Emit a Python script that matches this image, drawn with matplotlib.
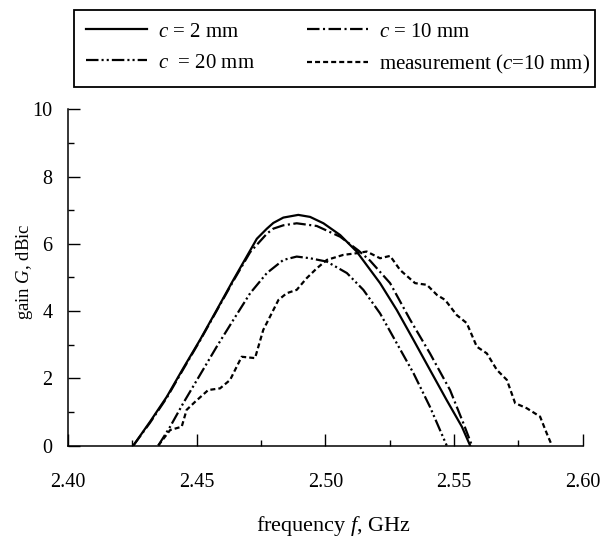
import numpy as np
import matplotlib
matplotlib.use('Agg')
import matplotlib.pyplot as plt
from matplotlib.patches import Rectangle
from matplotlib.ticker import MultipleLocator, FormatStrFormatter

plt.rcParams['font.family'] = ['Liberation Serif', 'DejaVu Serif']
plt.rcParams['mathtext.fontset'] = 'custom'
plt.rcParams['mathtext.rm'] = 'Liberation Serif'
plt.rcParams['mathtext.it'] = 'Liberation Serif:italic'
plt.rcParams['lines.scale_dashes'] = False

# c = 2 mm (simulated)
f_c2 = [2.4254, 2.4319, 2.4384, 2.4448, 2.4513, 2.4578, 2.4643, 2.4708, 2.4734,
        2.4773, 2.4798, 2.4837, 2.4895, 2.4941, 2.4993, 2.5058, 2.5122, 2.5213,
        2.5278, 2.5343, 2.5407, 2.5472, 2.5531, 2.5563]
g_c2 = [0.0, 0.71, 1.45, 2.30, 3.14, 4.03, 4.93, 5.80, 6.15,
        6.45, 6.62, 6.78, 6.86, 6.80, 6.61, 6.26, 5.77, 4.83,
        4.03, 3.14, 2.25, 1.35, 0.56, 0.0]

# c = 10 mm (simulated)
f_c10 = [2.4254, 2.4319, 2.4384, 2.4448, 2.4513, 2.4578, 2.4643, 2.4708, 2.4773,
         2.4798, 2.4837, 2.4889, 2.4967, 2.5058, 2.5129, 2.5174, 2.5252, 2.5330,
         2.5407, 2.5485, 2.5537, 2.5570]
g_c10 = [0.0, 0.68, 1.42, 2.27, 3.12, 4.01, 4.90, 5.75, 6.30,
         6.45, 6.55, 6.61, 6.53, 6.21, 5.80, 5.50, 4.83, 3.74,
         2.74, 1.65, 0.66, 0.0]

# c = 20 mm (simulated)
f_c20 = [2.4351, 2.4397, 2.4448, 2.4513, 2.4578, 2.4643, 2.4708, 2.4773, 2.4837,
         2.4889, 2.4941, 2.5006, 2.5084, 2.5148, 2.5213, 2.5278, 2.5343, 2.5407,
         2.5472]
g_c20 = [0.0, 0.56, 1.26, 2.10, 2.94, 3.74, 4.53, 5.13, 5.52,
         5.62, 5.57, 5.47, 5.13, 4.63, 3.93, 3.04, 2.15, 1.15,
         0.0]

# measurement (c = 10 mm)
f_meas = [2.4351, 2.4397, 2.4442, 2.4461, 2.4494, 2.4545, 2.4591, 2.4630, 2.4675,
          2.4727, 2.4759, 2.4785, 2.4818, 2.4850, 2.4889, 2.4928, 2.4967, 2.5006,
          2.5070, 2.5122, 2.5161, 2.5213, 2.5252, 2.5291, 2.5349, 2.5395, 2.5434,
          2.5466, 2.5511, 2.5550, 2.5589, 2.5628, 2.5667, 2.5706, 2.5738, 2.5783,
          2.5835, 2.5861, 2.5881]
g_meas = [0.0, 0.46, 0.56, 1.06, 1.30, 1.65, 1.70, 1.95, 2.64,
          2.60, 3.44, 3.83, 4.33, 4.53, 4.63, 4.98, 5.27, 5.52,
          5.67, 5.72, 5.77, 5.57, 5.64, 5.22, 4.83, 4.78, 4.48,
          4.33, 3.88, 3.64, 2.94, 2.74, 2.25, 1.95, 1.26, 1.11,
          0.86, 0.36, 0.0]

W, H = 611, 538
fig = plt.figure(figsize=(W / 100, H / 100), dpi=100)
ax = fig.add_axes([0.1113, 0.1719, 0.8421, 0.6249])

lw = 1.6
l1, = ax.plot(f_c2, g_c2, color='black', lw=lw, linestyle='-')
l2, = ax.plot(f_c10, g_c10, color='black', lw=lw, linestyle=(0, (9, 2.5, 1.5, 2.5)))
l3, = ax.plot(f_c20, g_c20, color='black', lw=lw,
              linestyle=(0, (9, 2.2, 1.5, 2.2, 1.5, 2.2)))
l4, = ax.plot(f_meas, g_meas, color='black', lw=lw, linestyle=(0, (3.6, 2.2)))

ax.set_xlim(2.40, 2.60)
ax.set_ylim(0, 10)
ax.xaxis.set_major_locator(MultipleLocator(0.05))
ax.xaxis.set_minor_locator(MultipleLocator(0.025))
ax.yaxis.set_major_locator(MultipleLocator(2))
ax.yaxis.set_minor_locator(MultipleLocator(1))
ax.xaxis.set_major_formatter(FormatStrFormatter('%.2f'))

ax.spines['top'].set_visible(False)
ax.spines['right'].set_visible(False)
ax.spines['left'].set_linewidth(1.1)
ax.spines['bottom'].set_linewidth(1.1)
ax.tick_params(which='major', direction='in', length=8.5, width=1.0, labelsize=14.5)
ax.tick_params(which='minor', direction='in', length=4.5, width=1.0)
ax.tick_params(axis='x', which='major', pad=20)
ax.tick_params(axis='y', which='major', pad=11)

ax.set_xlabel('frequency $f$, GHz', fontsize=16, va='top')
ax.xaxis.set_label_coords(0.517, -0.205)
ax.set_ylabel('gain $G$, dBic', fontsize=13.5)
ax.yaxis.set_label_coords(-0.064, 0.516)

# legend: row 1 = c=2, c=10 ; row 2 = c=20, measurement
leg = ax.legend([l1, l3, l2, l4],
                ['$c$ = 2 mm', '$c$  = 20 mm', '$c$ = 10 mm', 'measurement ($c$=10 mm)'],
                loc='upper left', bbox_to_anchor=(86 / W, 1 - 22 / H),
                bbox_transform=fig.transFigure, ncol=2, fontsize=15,
                frameon=False, handlelength=2.95, handletextpad=0.5,
                columnspacing=2.5, borderaxespad=0, borderpad=0, labelspacing=0.55)
# legend frame, tight on the right like the original
fig.add_artist(Rectangle((74 / W, 1 - 87 / H), 521 / W, 77 / H, transform=fig.transFigure,
                         fill=False, edgecolor='black', linewidth=1.3))

fig.savefig('out.png', dpi=100)
